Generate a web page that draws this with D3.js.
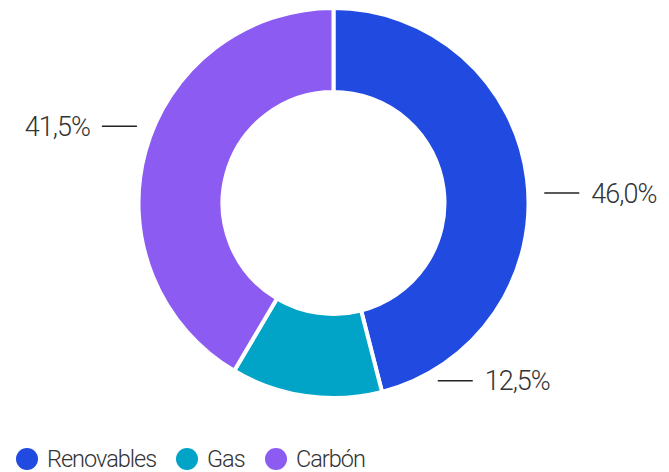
<!DOCTYPE html>
<html>
<head>
<meta charset="utf-8">
<script src="https://cdn.jsdelivr.net/npm/d3@7"></script>
<style>
  body { margin: 0; background: #fff; }
  text { font-family: Roboto, "Open Sans", sans-serif; font-weight: 300; }
</style>
</head>
<body>
<script>
// data
var categories = ["Renovables", "Gas", "Carbón"];
var shares = [46.0, 12.5, 41.5];
var colors = ["#204ae0", "#01a4c6", "#8c5bf1"];

var width = 669, height = 472;
var cx = 333.5, cy = 203;
var outerR = 195, innerR = 111;

var svg = d3.select("body").append("svg")
    .attr("width", width)
    .attr("height", height);

var pie = d3.pie().sort(null).value(function(d) { return d; });
var arcs = pie(shares);

var arc = d3.arc().innerRadius(innerR).outerRadius(outerR);

var g = svg.append("g").attr("transform", "translate(" + cx + "," + cy + ")");

g.selectAll("path")
  .data(arcs)
  .enter()
  .append("path")
  .attr("d", arc)
  .attr("fill", function(d, i) { return colors[i]; })
  .attr("stroke", "#fff")
  .attr("stroke-width", 4);

// labels -- nudged off the slice midpoint a bit (like the original did to avoid clashes)
var labelNudge = [4.5, -38.5, 6];
var lineR = [211, 206, 211], lineLen = 35;

function fmt(v) { return v.toFixed(1).replace(".", ",") + "%"; }

arcs.forEach(function(d, i) {
  var a = (d.startAngle + d.endAngle) / 2 + labelNudge[i] * Math.PI / 180;
  var x = lineR[i] * Math.sin(a);
  var y = -lineR[i] * Math.cos(a);
  var right = Math.sin(a) > 0;
  var x2 = right ? x + lineLen : x - lineLen;
  g.append("line")
    .attr("x1", x).attr("y1", y)
    .attr("x2", x2).attr("y2", y)
    .attr("stroke", "#222")
    .attr("stroke-width", 1.5);
  g.append("text")
    .attr("x", right ? x2 + 12 : x2 - 12)
    .attr("y", y)
    .attr("dy", "0.35em")
    .attr("text-anchor", right ? "start" : "end")
    .attr("font-size", "27px")
    .attr("letter-spacing", "-1px")
    .attr("fill", "#333")
    .text(fmt(d.data));
});

// legend
var legendX = [27, 187, 276];
var legend = svg.append("g").attr("transform", "translate(0,459)");
categories.forEach(function(c, i) {
  legend.append("circle")
    .attr("cx", legendX[i]).attr("cy", 0).attr("r", 11)
    .attr("fill", colors[i]);
  legend.append("text")
    .attr("x", legendX[i] + 20)
    .attr("y", 0)
    .attr("dy", "0.35em")
    .attr("font-size", "23.5px")
    .attr("letter-spacing", "-1px")
    .attr("fill", "#333")
    .text(c);
});
</script>
</body>
</html>
